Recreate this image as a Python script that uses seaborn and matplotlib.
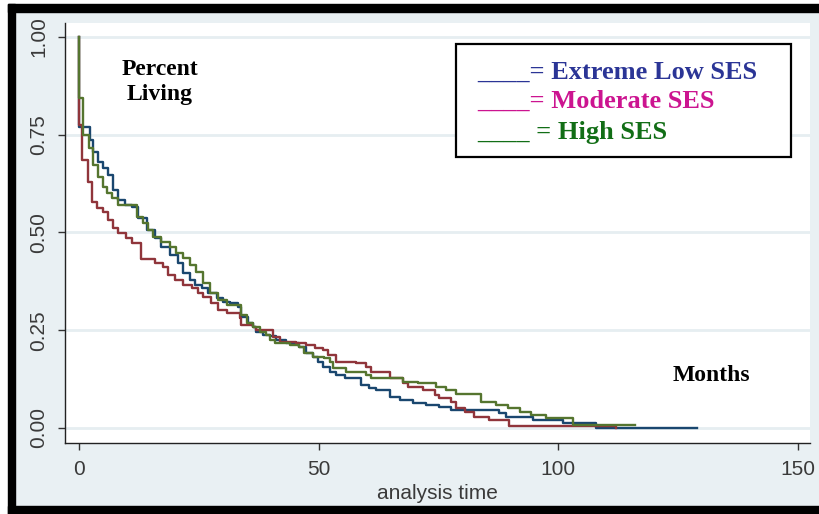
import pandas as pd
import matplotlib
matplotlib.use('Agg')
import matplotlib.pyplot as plt
import seaborn as sns
from matplotlib.patches import Rectangle

# Kaplan-Meier survival estimates (months, proportion living)
groups = ['Extreme Low SES', 'Moderate SES', 'High SES']

low_t = [0, 0.03, 2.3, 3.0, 4.0, 5.1, 6.1, 7.1, 8.2, 9.6, 11.0, 12.3, 14.1, 15.8, 17.2,
         19.0, 20.7, 21.7, 23.1, 24.2, 25.6, 26.9, 28.7, 30.1, 31.5, 33.2, 33.9, 35.3,
         36.3, 37.0, 38.4, 39.8, 41.2, 43.2, 46.0, 47.4, 48.8, 49.9, 50.9, 52.3, 53.7,
         55.4, 58.9, 60.6, 62.0, 64.8, 66.9, 69.6, 72.4, 75.2, 77.6, 87.7, 89.0, 94.7,
         100.9, 107.8, 129.0]
low_s = [1.0, 0.77, 0.737, 0.705, 0.68, 0.665, 0.647, 0.609, 0.583, 0.57, 0.566, 0.537,
         0.506, 0.486, 0.464, 0.442, 0.422, 0.396, 0.378, 0.365, 0.357, 0.345, 0.332,
         0.323, 0.319, 0.31, 0.285, 0.268, 0.259, 0.246, 0.238, 0.234, 0.225, 0.217,
         0.208, 0.193, 0.181, 0.17, 0.157, 0.144, 0.136, 0.127, 0.11, 0.101, 0.097,
         0.08, 0.072, 0.063, 0.059, 0.054, 0.046, 0.038, 0.029, 0.02, 0.012, 0.0, 0.0]

mod_t = [0, 0.02, 0.7, 1.9, 2.8, 3.7, 5.0, 6.1, 7.1, 8.2, 9.9, 11.0, 13.0, 15.8, 17.6,
         18.6, 20.0, 21.7, 23.5, 24.9, 25.9, 27.6, 29.0, 30.8, 33.5, 33.9, 36.3, 37.0,
         40.5, 41.9, 45.3, 47.4, 49.2, 50.9, 51.9, 53.7, 57.8, 59.9, 61.0, 64.8, 67.6,
         68.6, 71.7, 74.2, 75.2, 77.6, 78.7, 80.6, 82.5, 85.6, 89.8, 112.0]
mod_s = [1.0, 0.775, 0.685, 0.629, 0.578, 0.563, 0.552, 0.532, 0.511, 0.499, 0.486,
         0.473, 0.432, 0.422, 0.411, 0.391, 0.378, 0.365, 0.357, 0.345, 0.335, 0.32,
         0.302, 0.294, 0.281, 0.263, 0.259, 0.25, 0.233, 0.221, 0.217, 0.212, 0.204,
         0.2, 0.187, 0.17, 0.165, 0.157, 0.144, 0.127, 0.114, 0.106, 0.097, 0.084,
         0.076, 0.067, 0.05, 0.04, 0.029, 0.02, 0.004, 0.0]

high_t = [0, 0.05, 0.9, 2.1, 3.0, 4.0, 5.0, 5.8, 6.8, 8.2, 12.0, 13.4, 14.4, 15.5, 17.2,
          19.0, 20.3, 21.7, 23.1, 24.5, 25.9, 27.3, 29.0, 30.8, 33.9, 35.0, 36.3, 37.7,
          39.1, 39.8, 40.8, 44.0, 46.0, 47.0, 48.8, 51.2, 52.3, 53.0, 55.8, 59.9, 61.0,
          67.6, 70.7, 74.5, 76.6, 78.7, 83.9, 87.0, 89.4, 91.9, 94.3, 97.4, 103.0, 116.0]
high_s = [1.0, 0.845, 0.75, 0.716, 0.673, 0.642, 0.617, 0.60, 0.588, 0.57, 0.54, 0.524,
          0.506, 0.489, 0.476, 0.464, 0.447, 0.435, 0.417, 0.40, 0.37, 0.345, 0.327,
          0.315, 0.289, 0.268, 0.259, 0.246, 0.238, 0.225, 0.217, 0.212, 0.206, 0.191,
          0.182, 0.178, 0.17, 0.153, 0.144, 0.136, 0.127, 0.118, 0.114, 0.106, 0.097,
          0.088, 0.067, 0.059, 0.05, 0.042, 0.033, 0.025, 0.008, 0.008]

line_colors = ['#1a476f', '#90353b', '#55752f']
text_colors = ['#2b3596', '#cc1490', '#126e16']
legend_text = ['____= Extreme Low SES', '____= Moderate SES', '____ = High SES']

df = pd.concat([
    pd.DataFrame({'t': low_t, 's': low_s, 'group': groups[0]}),
    pd.DataFrame({'t': mod_t, 's': mod_s, 'group': groups[1]}),
    pd.DataFrame({'t': high_t, 's': high_s, 'group': groups[2]}),
], ignore_index=True)

W, H = 820, 514
fig = plt.figure(figsize=(8.2, 5.14), dpi=100)
fig.patch.set_facecolor('white')

# Stata-like outer background and black frame
bg = '#e9f0f3'
fig.add_artist(Rectangle((15 / W, 8 / H), 1 - 15 / W, 494 / H, color=bg,
                         transform=fig.transFigure, zorder=-10))
fig.add_artist(Rectangle((8 / W, 0), 7 / W, 510 / H, color='black',
                         transform=fig.transFigure, zorder=-9))
fig.add_artist(Rectangle((8 / W, 502 / H), 1 - 8 / W, 8 / H, color='black',
                         transform=fig.transFigure, zorder=-9))
fig.add_artist(Rectangle((8 / W, 0), 1 - 8 / W, 8 / H, color='black',
                         transform=fig.transFigure, zorder=-9))

ax = fig.add_axes([65 / W, 71 / H, 745 / W, 420 / H])
ax.set_facecolor('white')

sns.lineplot(data=df, x='t', y='s', hue='group', hue_order=groups,
             palette=line_colors, estimator=None, sort=False,
             drawstyle='steps-post', linewidth=1.7, legend=False, ax=ax)

# keep High SES on top, as in the original
for line in ax.get_lines():
    col = matplotlib.colors.to_hex(line.get_color())
    if col == line_colors[2]:
        line.set_zorder(2.3)
    elif col == line_colors[1]:
        line.set_zorder(2.2)
    else:
        line.set_zorder(2.1)

ax.set_xlim(-2.92, 152.5)
ax.set_ylim(-0.0384, 1.0358)
ax.set_xticks([0, 50, 100, 150])
ax.set_yticks([0, 0.25, 0.5, 0.75, 1.0])
ax.set_yticklabels(['0.00', '0.25', '0.50', '0.75', '1.00'], rotation=90, va='center')

for side in ['top', 'right']:
    ax.spines[side].set_visible(False)
for side in ['left', 'bottom']:
    ax.spines[side].set_color('#222222')
    ax.spines[side].set_linewidth(1.0)

ax.tick_params(direction='out', length=5, width=1, color='#333333',
               labelsize=15, labelcolor='#3a3a3a', pad=7)
for lab in ax.get_xticklabels() + ax.get_yticklabels():
    lab.set_fontfamily('Liberation Sans')

ax.yaxis.grid(True, color='#e6eef1', linewidth=2)
ax.xaxis.grid(False)
ax.set_axisbelow(True)

ax.set_xlabel('analysis time', fontsize=15, family='Liberation Sans',
              color='#3a3a3a', labelpad=4)
ax.set_ylabel('')

ax.text(16.9, 0.885, 'Percent\nLiving', ha='center', va='center', fontsize=17,
        family='Liberation Serif', weight='bold', linespacing=1.3)
ax.text(131.9, 0.133, 'Months', ha='center', va='center', fontsize=17,
        family='Liberation Serif', weight='bold')

# hand-made legend box
ax.add_patch(Rectangle((0.525, 0.681), 0.4495, 0.269, transform=ax.transAxes,
                       facecolor='white', edgecolor='black', linewidth=1.6, zorder=5))
for y, txt, c in zip([0.883, 0.814, 0.740], legend_text, text_colors):
    ax.text(0.553, y, txt, transform=ax.transAxes, ha='left', va='center',
            fontsize=19, family='Liberation Serif', weight='bold', color=c, zorder=6)

fig.savefig('out.png', dpi=100, facecolor=fig.get_facecolor())
